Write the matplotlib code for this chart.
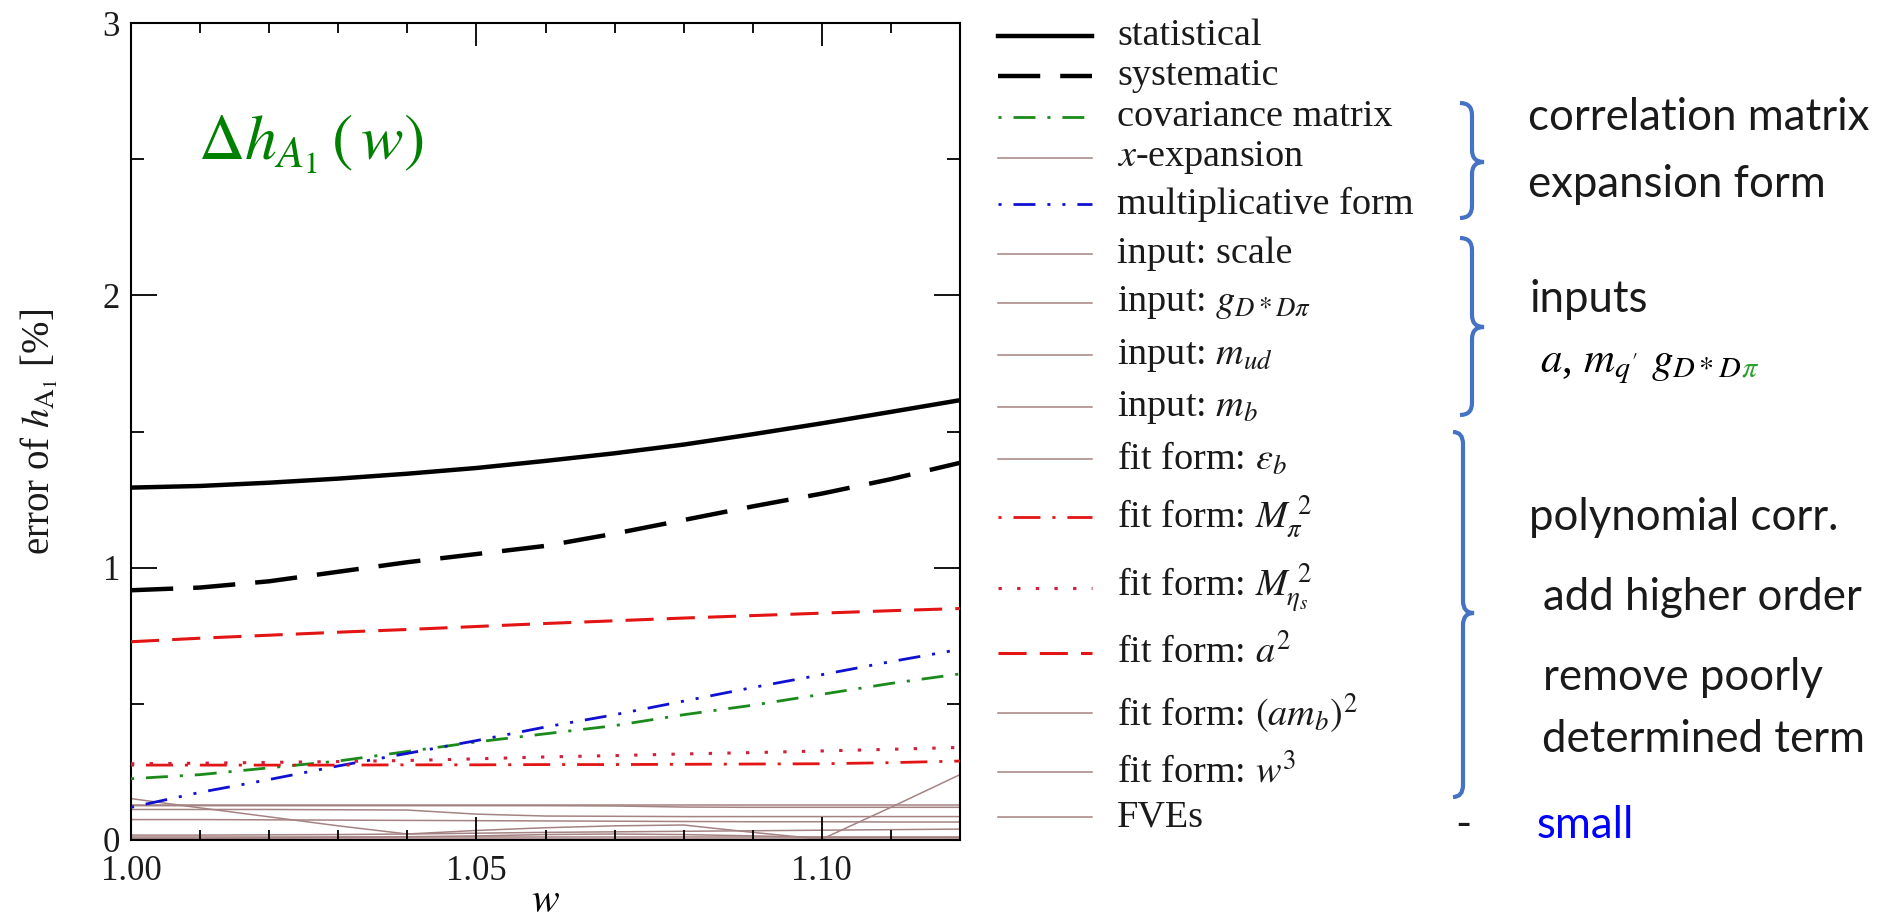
import matplotlib
matplotlib.use("Agg")
import matplotlib.pyplot as plt
from matplotlib.lines import Line2D
from matplotlib.path import Path
from matplotlib.patches import PathPatch
from matplotlib.ticker import MultipleLocator

plt.rcParams['font.family'] = ['Liberation Serif', 'DejaVu Serif']
plt.rcParams['mathtext.fontset'] = 'stix'

# ---- data ----
w = [1.00, 1.01, 1.02, 1.03, 1.04, 1.05, 1.06, 1.07, 1.08, 1.09, 1.10, 1.11, 1.12]

statistical = [1.294, 1.300, 1.312, 1.327, 1.345, 1.366, 1.392, 1.420, 1.452, 1.490, 1.530, 1.572, 1.615]
systematic = [0.917, 0.927, 0.950, 0.985, 1.020, 1.050, 1.080, 1.125, 1.175, 1.225, 1.272, 1.325, 1.385]
covariance = [0.225, 0.240, 0.265, 0.290, 0.325, 0.360, 0.390, 0.420, 0.460, 0.495, 0.535, 0.575, 0.610]
multiplicative = [0.120, 0.175, 0.222, 0.272, 0.318, 0.365, 0.415, 0.460, 0.510, 0.560, 0.607, 0.655, 0.700]
fit_mpi2 = [0.275, 0.275, 0.275, 0.275, 0.276, 0.276, 0.277, 0.277, 0.278, 0.279, 0.280, 0.284, 0.290]
fit_metas2 = [0.280, 0.282, 0.285, 0.288, 0.292, 0.298, 0.305, 0.310, 0.316, 0.321, 0.327, 0.333, 0.340]
fit_a2 = [0.728, 0.741, 0.752, 0.763, 0.773, 0.784, 0.795, 0.805, 0.815, 0.824, 0.833, 0.842, 0.850]

x_expansion = [0.152, 0.118, 0.085, 0.052, 0.022, 0.035, 0.045, 0.052, 0.055, 0.028, 0.003, 0.120, 0.240]
input_scale = [0.128, 0.128, 0.128, 0.128, 0.128, 0.128, 0.128, 0.128, 0.128, 0.128, 0.128, 0.128, 0.128]
input_g = [0.126, 0.126, 0.126, 0.126, 0.126, 0.126, 0.126, 0.125, 0.121, 0.120, 0.120, 0.120, 0.120]
input_mud = [0.112, 0.112, 0.112, 0.111, 0.110, 0.095, 0.088, 0.087, 0.086, 0.086, 0.086, 0.086, 0.086]
input_mb = [0.075, 0.075, 0.074, 0.073, 0.072, 0.071, 0.070, 0.069, 0.068, 0.067, 0.067, 0.066, 0.066]
fit_epsb = [0.018, 0.018, 0.019, 0.020, 0.022, 0.025, 0.028, 0.030, 0.032, 0.034, 0.036, 0.038, 0.040]
fit_amb2 = [0.012, 0.012, 0.012, 0.012, 0.012, 0.012, 0.012, 0.012, 0.012, 0.012, 0.012, 0.012, 0.012]
fit_w3 = [0.006, 0.006, 0.008, 0.010, 0.012, 0.015, 0.020, 0.022, 0.020, 0.015, 0.010, 0.010, 0.010]
fves = [0.003, 0.003, 0.003, 0.003, 0.003, 0.003, 0.003, 0.003, 0.003, 0.003, 0.003, 0.003, 0.003]

# ---- styles ----
BROWN = '#a58383'
RED = '#e31414'
GREEN = '#1b8a1b'
BLUE = '#1010d0'
brown = dict(color=BROWN, lw=1.1, ls='-')

series = [
    (r"statistical", statistical, dict(color='black', lw=3.2, ls='-')),
    (r"systematic", systematic, dict(color='black', lw=3.2, ls=(0, (9.5, 4.5)))),
    (r"covariance matrix", covariance, dict(color=GREEN, lw=2.0, ls=(0, (1.1, 4.3, 7.9, 4.3)))),
    (r"$x$-expansion", x_expansion, brown),
    (r"multiplicative form", multiplicative,
     dict(color=BLUE, lw=2.0, ls=(0, (1.1, 4.3, 7.9, 4.3, 1.1, 4.3)))),
    (r"input: scale", input_scale, brown),
    (r"input: $g_{D*D\pi}$", input_g, brown),
    (r"input: $m_{ud}$", input_mud, brown),
    (r"input: $m_b$", input_mb, brown),
    (r"fit form: $\varepsilon_b$", fit_epsb, brown),
    (r"fit form: $M_{\pi}^{\ 2}$", fit_mpi2, dict(color=RED, lw=2.0, ls=(0, (1.1, 4.3, 9.7, 4.3)))),
    (r"fit form: $M_{\eta_s}^{\ 2}$", fit_metas2, dict(color='#d2203c', lw=2.2, ls=(0, (1.1, 5.0)))),
    (r"fit form: $a^2$", fit_a2, dict(color=RED, lw=2.2, ls=(0, (9.2, 4.3)))),
    (r"fit form: $(am_b)^2$", fit_amb2, brown),
    (r"fit form: $w^3$", fit_w3, brown),
    (r"FVEs", fves, brown),
]

W, H = 1887, 919


def fx(x):
    return x / W


def fy(y):
    return 1 - y / H


fig = plt.figure(figsize=(W / 100, H / 100), dpi=100)
ax = fig.add_axes([fx(131), fy(840), (960 - 131) / W, (840 - 23) / H])

# thin brown lines below the coloured ones
for label, vals, st in series:
    z = 1 if st is brown else 3
    ax.plot(w, vals, zorder=z, **st)

ax.set_xlim(1.00, 1.12)
ax.set_ylim(0, 3)
ax.set_xticks([1.00, 1.05, 1.10])
ax.xaxis.set_major_formatter('{x:.2f}')
ax.xaxis.set_minor_locator(MultipleLocator(0.01))
ax.yaxis.set_major_locator(MultipleLocator(1))
ax.yaxis.set_minor_locator(MultipleLocator(0.5))
ax.tick_params(which='both', direction='in', top=True, right=True, width=1.3,
               labelsize=25, labelcolor='#1a1a1a')
ax.tick_params(axis='x', which='major', length=16.5, pad=11)
ax.tick_params(axis='x', which='minor', length=7.5)
ax.tick_params(axis='y', which='major', length=18.5, pad=8)
ax.tick_params(axis='y', which='minor', length=9.5)
for s in ax.spines.values():
    s.set_linewidth(1.5)

ax.set_ylabel(r'error of $h_{\mathrm{A}_1}$ [%]', fontsize=28, color='#1a1a1a')
ax.yaxis.set_label_coords(-0.086, 0.5)
ax.set_xlabel(r'$w$', fontsize=30)
ax.xaxis.set_label_coords(0.5, -0.052)

ax.text(0.081, 0.852, r'$\Delta h_{A_1}\,\left(\,w\right)$', transform=ax.transAxes,
        color='#008000', fontsize=46, ha='left', va='center')

# ---- legend drawn by hand (irregular row spacing) ----
legend_rows_y = [36, 76, 117, 158, 204, 254, 303, 355, 407, 459, 517, 588, 653, 713, 772, 817]
for (label, vals, st), yy in zip(series, legend_rows_y):
    fig.add_artist(Line2D([fx(998), fx(1092)], [fy(yy), fy(yy)], transform=fig.transFigure, **st))
    fig.text(fx(1117), fy(yy), label, fontsize=27.5, ha='left', va='center', color='#1a1a1a')

# ---- braces and notes on the right ----
BRACE = '#4472c4'


def brace(xl, xv, xt, yt, ym, yb, r=12):
    pts = [(xl, yt), (xv, yt), (xv, yt + r), (xv, ym - r), (xv, ym), (xt, ym),
           (xv, ym), (xv, ym + r), (xv, yb - r), (xv, yb), (xl, yb)]
    codes = [Path.MOVETO, Path.CURVE3, Path.CURVE3, Path.LINETO, Path.CURVE3, Path.CURVE3,
             Path.CURVE3, Path.CURVE3, Path.LINETO, Path.CURVE3, Path.CURVE3]
    path = Path([(fx(x), fy(y)) for x, y in pts], codes)
    fig.add_artist(PathPatch(path, transform=fig.transFigure, fill=False,
                             edgecolor=BRACE, lw=3.0, capstyle='butt'))


brace(1460, 1472, 1484, 103, 162, 218)
brace(1460, 1472, 1484, 238, 327, 415)
brace(1453, 1463, 1474, 432, 613, 797)

note = dict(family=['Lato', 'DejaVu Sans'], fontsize=31.5, ha='left', va='baseline', color='#1a1a1a')
fig.text(fx(1528), fy(130), 'correlation matrix', **note)
fig.text(fx(1528), fy(197), 'expansion form', **note)
fig.text(fx(1529), fy(312), 'inputs', **note)
fig.text(fx(1529), fy(530), 'polynomial corr.', **note)
fig.text(fx(1543), fy(610), 'add higher order', **note)
fig.text(fx(1543), fy(690), 'remove poorly', **note)
fig.text(fx(1542), fy(752), 'determined term', **note)
fig.text(fx(1455), fy(838), '-', **note)
note['color'] = '#0000ff'
fig.text(fx(1537), fy(838), 'small', **note)

t = fig.text(fx(1540), fy(372), r"$a$, $m_{q'}$ $g_{D*D}$", fontsize=31, ha='left', va='baseline')
bb = t.get_window_extent(renderer=fig.canvas.get_renderer())
fig.text(bb.x1 / W, fy(372), r"${}_{\pi}$", fontsize=31, ha='left', va='baseline', color='#2ca02c')

fig.savefig('out.png', dpi=100)
